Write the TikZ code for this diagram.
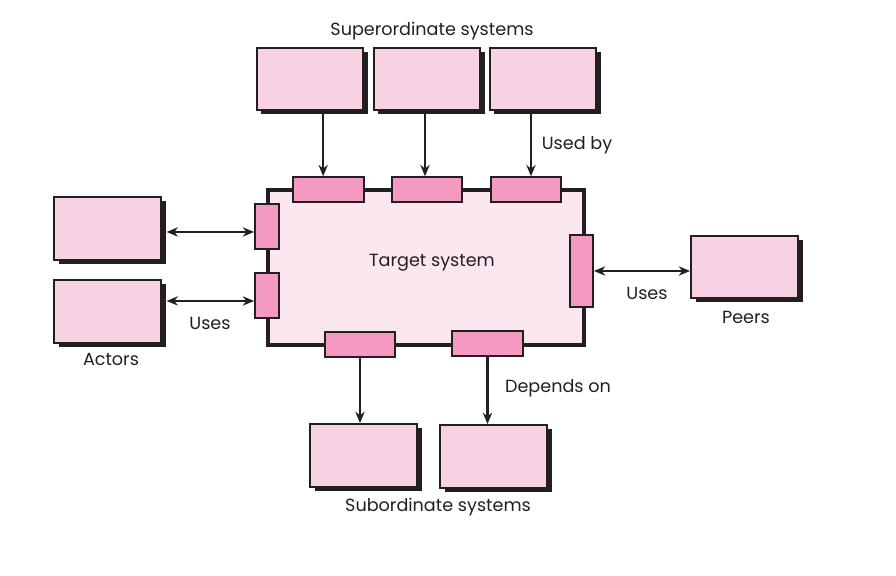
\documentclass[tikz,border=0pt]{standalone}
\usepackage{fontspec}
\setmainfont{Poppins}
\usepackage{tikz}
\usetikzlibrary{arrows.meta,shadows}

\definecolor{boxpink}{HTML}{F9D1E4}
\definecolor{portpink}{HTML}{F49AC2}
\definecolor{tgtpink}{HTML}{FCE7F1}
\definecolor{inkline}{HTML}{231F20}

\tikzset{
  sysbox/.style={draw=inkline, line width=1.7pt, fill=boxpink, minimum width=80pt, minimum height=47pt,
    drop shadow={shadow xshift=3.5pt, shadow yshift=-3pt, fill=inkline, opacity=1}},
  port/.style={draw=inkline, line width=1.4pt, fill=portpink, inner sep=0pt},
  hport/.style={port, minimum width=53pt, minimum height=18.5pt},
  tgtbox/.style={draw=inkline, line width=2.8pt, fill=tgtpink, minimum width=237pt, minimum height=116pt},
  conn/.style={draw=inkline, line width=1.9pt, -{Stealth[length=8.5pt,width=7pt]}},
  biconn/.style={conn, {Stealth[length=8.5pt,width=7pt]}-{Stealth[length=8.5pt,width=7pt]}},
  lbl/.style={text=inkline, font=\fontsize{13.2}{15}\selectfont, inner sep=0pt}
}

\begin{document}
\begin{tikzpicture}[x=0.75pt,y=0.75pt,yscale=-1,xscale=1]
\useasboundingbox (0,0) rectangle (896,575);

% Target system
\node [tgtbox] (tgt) at (426,267.5) {};

% Superordinate systems
\node [sysbox] (sup1) at (310,79) {};
\node [sysbox] (sup2) at (427,79) {};
\node [sysbox] (sup3) at (543,79) {};

% Ports on the target
\node [hport] (p1) at (328.5,189.5) {};
\node [hport] (p2) at (427,189.5) {};
\node [hport] (p3) at (526,189.5) {};
\node [port, minimum width=18pt, minimum height=33.75pt] (l1) at (267,226.5) {};
\node [port, minimum width=18pt, minimum height=33.75pt] (l2) at (267,295.5) {};
\node [port, minimum width=17.25pt, minimum height=54pt] (r1) at (581.5,271) {};
\node [hport] (b1) at (360,344.5) {};
\node [hport] (b2) at (487.5,343.5) {};

% Actors, peers, subordinates
\node [sysbox] (act1) at (107.5,228.5) {};
\node [sysbox] (act2) at (107.5,311.5) {};
\node [sysbox] (peer) at (744.5,267) {};
\node [sysbox] (sub1) at (363.5,455.5) {};
\node [sysbox] (sub2) at (493.5,456.5) {};

% Connectors
\draw [conn] ([xshift=-4pt]p1.north |- sup1.south) -- ([xshift=-4pt]p1.north);
\draw [conn] ([xshift=-1.5pt]p2.north |- sup2.south) -- ([xshift=-1.5pt]p2.north);
\draw [conn] ([xshift=3.75pt]p3.north |- sup3.south) -- ([xshift=3.75pt]p3.north);
\draw [biconn] ([xshift=3.5pt,yshift=2.6pt]act1.east) -- ([yshift=2.6pt]act1.east -| l1.west);
\draw [biconn] ([xshift=3.5pt,yshift=-7.9pt]act2.east) -- ([yshift=-7.9pt]act2.east -| l2.west);
\draw [biconn] (r1.east) -- (r1.east -| peer.west);
\draw [conn] (b1.south) -- (b1.south |- sub1.north);
\draw [conn] (b2.south) -- (b2.south |- sub2.north);

% Text Node
\node [lbl] (suplbl) at (432,31.5) {Superordinate systems};
\node [lbl] (usedby) at (577,145) {Used by};
\node [lbl] (tgtlbl) at (432,263) {Target system};
\node [lbl] (usesl) at (210,323) {Uses};
\node [lbl] (actlbl) at (111,359) {Actors};
\node [lbl] (usesr) at (647,293) {Uses};
\node [lbl] (peerlbl) at (746,317) {Peers};
\node [lbl] (dependson) at (558,388) {Depends on};
\node [lbl] (sublbl) at (438,507) {Subordinate systems};

\end{tikzpicture}
\end{document}
